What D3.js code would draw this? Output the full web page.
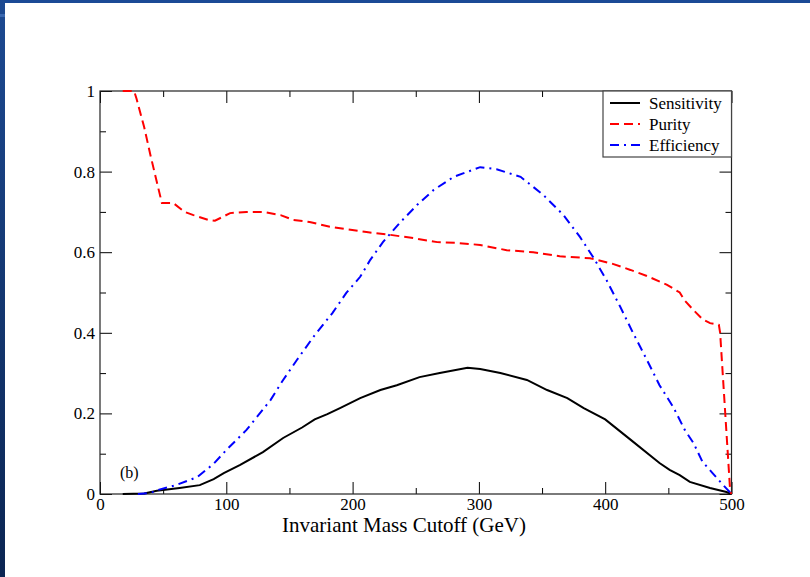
<!DOCTYPE html>
<meta charset="utf-8">
<style>

body {
  margin: 0;
  background: #fff;
}

svg text {
  font-family: "Liberation Serif", "Times New Roman", serif;
  fill: #000;
}

</style>
<svg width="810" height="577"></svg>
<script src="https://d3js.org/d3.v7.min.js"></script>
<script>

// values: [cutoff (GeV), value]
var sensitivity = [[18,0],[35,0.001],[45,0.008],[63,0.015],[79,0.022],[90,0.037],[98,0.052],[111,0.072],
  [129,0.104],[145,0.139],[160,0.165],[170,0.185],[180,0.198],[190,0.213],[206,0.238],[222,0.258],
  [235,0.27],[253,0.29],[269,0.3],[291,0.313],[301,0.31],[317,0.3],[338,0.283],[354,0.258],
  [370,0.238],[383,0.213],[400,0.185],[420,0.135],[443,0.077],[451,0.06],[459,0.047],[467,0.03],
  [483,0.015],[496,0.005],[500,0]];

var purity = [[18,1],[27,1],[29,0.98],[35,0.91],[40,0.84],[45,0.774],[49,0.722],[58,0.722],[67,0.7],
  [74,0.692],[86,0.68],[91,0.678],[103,0.697],[116,0.7],[129,0.7],[143,0.692],[153,0.68],[166,0.675],
  [182,0.663],[195,0.657],[211,0.65],[230,0.643],[248,0.635],[267,0.625],[283,0.623],[301,0.618],
  [322,0.605],[343,0.6],[364,0.59],[388,0.585],[406,0.571],[420,0.556],[433,0.541],[449,0.519],
  [459,0.5],[463,0.48],[470,0.456],[477,0.434],[483,0.424],[490,0.42],[491,0.4],[499,0.005],[500,0]];

var efficiency = [[30,0],[40,0.003],[46,0.01],[60,0.022],[77,0.042],[90,0.075],[100,0.109],[116,0.159],
  [135,0.233],[145,0.283],[156,0.333],[169,0.39],[184,0.449],[195,0.499],[206,0.539],[214,0.581],
  [224,0.625],[238,0.675],[251,0.717],[264,0.754],[280,0.787],[301,0.811],[314,0.806],[333,0.787],
  [351,0.742],[367,0.692],[380,0.638],[391,0.585],[401,0.531],[412,0.464],[422,0.4],[433,0.333],
  [443,0.27],[454,0.215],[463,0.159],[470,0.126],[477,0.08],[485,0.052],[492,0.027],[500,0]];

var xMajor = [0, 100, 200, 300, 400, 500];
var xMinor = [50, 150, 250, 350, 450];
var yMajor = [0, 0.2, 0.4, 0.6, 0.8, 1];
var yMinor = [0.1, 0.3, 0.5, 0.7, 0.9];
var yLabels = ["0", "0.2", "0.4", "0.6", "0.8", "1"];

var series = [
  {name: "Sensitivity", data: sensitivity, color: "#000", dash: null},
  {name: "Purity", data: purity, color: "#ff0000", dash: "9,5"},
  {name: "Efficiency", data: efficiency, color: "#0000ff", dash: "9,5,2,5"}
];

var svg = d3.select("svg");

// slide border
var grad = svg.append("defs").append("linearGradient")
    .attr("id", "edge").attr("x1", 0).attr("y1", 0).attr("x2", 0).attr("y2", 1);
grad.append("stop").attr("offset", "0%").attr("stop-color", "#1d4a92");
grad.append("stop").attr("offset", "100%").attr("stop-color", "#0b2552");
svg.append("rect").attr("x", 0).attr("y", 0).attr("width", 810).attr("height", 3).attr("fill", "#1b4a96");
svg.append("rect").attr("x", 0).attr("y", 0).attr("width", 5).attr("height", 577).attr("fill", "url(#edge)");
svg.append("rect").attr("x", 0).attr("y", 14).attr("width", 5).attr("height", 3).attr("fill", "#3a68b0");

var pLeft = 100, pRight = 731.5, pTop = 91, pBottom = 494;

var x = d3.scaleLinear().domain([0, 500]).range([pLeft, pRight]);
var y = d3.scaleLinear().domain([0, 1]).range([pBottom, pTop]);

function noLabels(a) { return a.tickFormat(function(){ return ""; }); }

var axes = svg.append("g").attr("class", "axes");

axes.append("g").attr("transform", "translate(0," + pBottom + ")")
    .call(d3.axisBottom(x).tickValues(xMajor).tickSizeInner(-12).tickSizeOuter(0).tickPadding(4)
      .tickFormat(d3.format("d")));
axes.append("g").attr("transform", "translate(0," + pBottom + ")")
    .call(noLabels(d3.axisBottom(x).tickValues(xMinor).tickSizeInner(-6).tickSizeOuter(0)));
axes.append("g").attr("transform", "translate(0," + pTop + ")")
    .call(noLabels(d3.axisTop(x).tickValues(xMajor).tickSizeInner(-12).tickSizeOuter(0)));
axes.append("g").attr("transform", "translate(0," + pTop + ")")
    .call(noLabels(d3.axisTop(x).tickValues(xMinor).tickSizeInner(-6).tickSizeOuter(0)));

axes.append("g").attr("transform", "translate(" + pLeft + ",0)")
    .call(d3.axisLeft(y).tickValues(yMajor).tickSizeInner(-12).tickSizeOuter(0).tickPadding(5)
      .tickFormat(function(d, i){ return yLabels[i]; }));
axes.append("g").attr("transform", "translate(" + pLeft + ",0)")
    .call(noLabels(d3.axisLeft(y).tickValues(yMinor).tickSizeInner(-6).tickSizeOuter(0)));
axes.append("g").attr("transform", "translate(" + pRight + ",0)")
    .call(noLabels(d3.axisRight(y).tickValues(yMajor).tickSizeInner(-12).tickSizeOuter(0)));
axes.append("g").attr("transform", "translate(" + pRight + ",0)")
    .call(noLabels(d3.axisRight(y).tickValues(yMinor).tickSizeInner(-6).tickSizeOuter(0)));

axes.selectAll(".domain").remove();
axes.selectAll("line").attr("stroke", "#000").attr("stroke-width", 1);
axes.selectAll("text").style("font-size", "17px")
    .style("font-family", "'Liberation Serif', serif").attr("fill", "#000");

// frame
svg.append("rect")
    .attr("x", pLeft).attr("y", pTop)
    .attr("width", pRight - pLeft).attr("height", pBottom - pTop)
    .attr("fill", "none").attr("stroke", "#222").attr("stroke-width", 1.2);

var line = d3.line()
    .x(function(d){ return x(d[0]); })
    .y(function(d){ return y(d[1]); });

svg.selectAll(".series")
    .data(series)
  .enter().append("path")
    .attr("class", "series")
    .attr("d", function(d){ return line(d.data); })
    .attr("fill", "none")
    .attr("stroke", function(d){ return d.color; })
    .attr("stroke-width", 2)
    .attr("stroke-dasharray", function(d){ return d.dash; });

// legend
var legend = svg.append("g");
legend.append("rect")
    .attr("x", 603).attr("y", pTop)
    .attr("width", pRight - 603).attr("height", 66)
    .attr("fill", "#fff").attr("stroke", "#444").attr("stroke-width", 1.2);

var item = legend.selectAll(".item")
    .data(series)
  .enter().append("g")
    .attr("transform", function(d, i){ return "translate(0," + (103 + i * 21) + ")"; });

item.append("line")
    .attr("x1", 610).attr("x2", 640)
    .attr("stroke", function(d){ return d.color; })
    .attr("stroke-width", 2)
    .attr("stroke-dasharray", function(d){ return d.dash; });

item.append("text")
    .attr("x", 649).attr("dy", "0.35em")
    .style("font-size", "17px")
    .text(function(d){ return d.name; });

svg.append("text")
    .attr("x", 120).attr("y", 478)
    .style("font-size", "16px")
    .text("(b)");

svg.append("text")
    .attr("x", 404).attr("y", 532)
    .attr("text-anchor", "middle")
    .style("font-size", "21px")
    .text("Invariant Mass Cutoff (GeV)");

</script>
